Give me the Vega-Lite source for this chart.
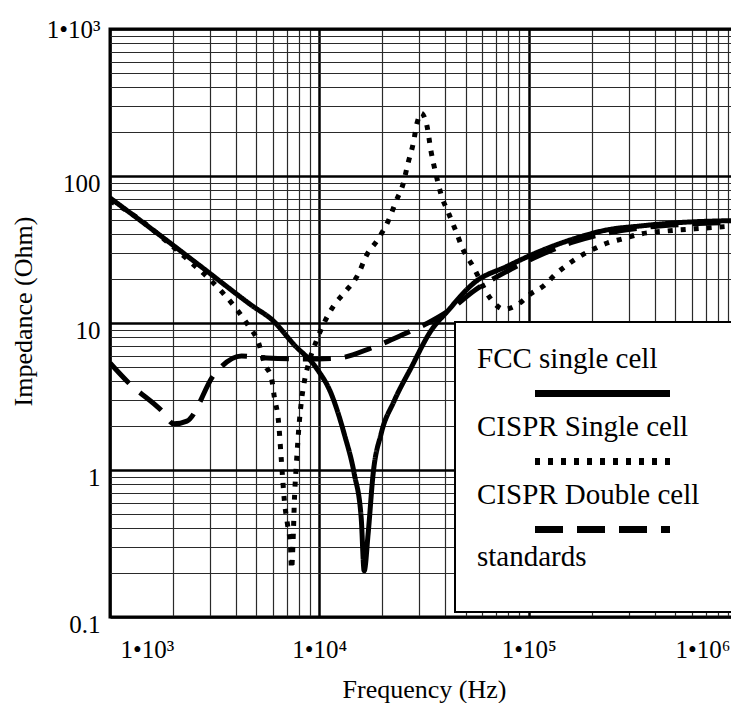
{
  "$schema": "https://vega.github.io/schema/vega-lite/v6.json",
  "width": 628,
  "height": 588,
  "autosize": {"type": "none"},
  "padding": {"left": 110, "top": 29, "right": -7, "bottom": 86},
  "background": "white",
  "config": {
    "font": "Liberation Serif",
    "view": {"stroke": "black", "strokeWidth": 3},
    "axis": {
      "domain": false,
      "ticks": false,
      "labelColor": "black",
      "titleColor": "black",
      "labelFont": "Liberation Serif",
      "titleFont": "Liberation Serif",
      "titleFontWeight": "normal",
      "labelFontSize": 25,
      "titleFontSize": 26,
      "gridOpacity": 1,
      "labelOverlap": false
    },
    "legend": {"strokeWidth": 2}
  },
  "data": {
    "values": [
      {"series": "FCC single cell", "frequency": 1000, "impedance": 71},
      {"series": "FCC single cell", "frequency": 1585, "impedance": 43.5},
      {"series": "FCC single cell", "frequency": 2742, "impedance": 24.0},
      {"series": "FCC single cell", "frequency": 4742, "impedance": 13.2},
      {"series": "FCC single cell", "frequency": 6040, "impedance": 10.3},
      {"series": "FCC single cell", "frequency": 7516, "impedance": 7.2},
      {"series": "FCC single cell", "frequency": 9676, "impedance": 4.94},
      {"series": "FCC single cell", "frequency": 11406, "impedance": 3.29},
      {"series": "FCC single cell", "frequency": 13152, "impedance": 1.76},
      {"series": "FCC single cell", "frequency": 14686, "impedance": 0.94},
      {"series": "FCC single cell", "frequency": 15849, "impedance": 0.471},
      {"series": "FCC single cell", "frequency": 16380, "impedance": 0.206},
      {"series": "FCC single cell", "frequency": 17100, "impedance": 0.367},
      {"series": "FCC single cell", "frequency": 18070, "impedance": 0.94},
      {"series": "FCC single cell", "frequency": 19720, "impedance": 1.76},
      {"series": "FCC single cell", "frequency": 22750, "impedance": 2.94},
      {"series": "FCC single cell", "frequency": 27400, "impedance": 4.94},
      {"series": "FCC single cell", "frequency": 34100, "impedance": 8.83},
      {"series": "FCC single cell", "frequency": 41100, "impedance": 12.1},
      {"series": "FCC single cell", "frequency": 54700, "impedance": 18.7},
      {"series": "FCC single cell", "frequency": 79400, "impedance": 24.4},
      {"series": "FCC single cell", "frequency": 114000, "impedance": 30.9},
      {"series": "FCC single cell", "frequency": 163700, "impedance": 37.3},
      {"series": "FCC single cell", "frequency": 237500, "impedance": 43.0},
      {"series": "FCC single cell", "frequency": 341000, "impedance": 45.7},
      {"series": "FCC single cell", "frequency": 490000, "impedance": 47.9},
      {"series": "FCC single cell", "frequency": 1000000, "impedance": 49.8},

      {"series": "CISPR Single cell", "frequency": 1000, "impedance": 67.6},
      {"series": "CISPR Single cell", "frequency": 1274, "impedance": 55.1},
      {"series": "CISPR Single cell", "frequency": 1808, "impedance": 37.3},
      {"series": "CISPR Single cell", "frequency": 2455, "impedance": 25.6},
      {"series": "CISPR Single cell", "frequency": 2958, "impedance": 20.2},
      {"series": "CISPR Single cell", "frequency": 3490, "impedance": 15.8},
      {"series": "CISPR Single cell", "frequency": 4027, "impedance": 12.4},
      {"series": "CISPR Single cell", "frequency": 4592, "impedance": 9.55},
      {"series": "CISPR Single cell", "frequency": 5127, "impedance": 7.31},
      {"series": "CISPR Single cell", "frequency": 5474, "impedance": 5.26},
      {"series": "CISPR Single cell", "frequency": 5905, "impedance": 4.22},
      {"series": "CISPR Single cell", "frequency": 6105, "impedance": 3.09},
      {"series": "CISPR Single cell", "frequency": 6380, "impedance": 2.15},
      {"series": "CISPR Single cell", "frequency": 6590, "impedance": 1.15},
      {"series": "CISPR Single cell", "frequency": 6810, "impedance": 0.615},
      {"series": "CISPR Single cell", "frequency": 7040, "impedance": 0.43},
      {"series": "CISPR Single cell", "frequency": 7280, "impedance": 0.304},
      {"series": "CISPR Single cell", "frequency": 7360, "impedance": 0.212},
      {"series": "CISPR Single cell", "frequency": 7520, "impedance": 0.384},
      {"series": "CISPR Single cell", "frequency": 7600, "impedance": 0.615},
      {"series": "CISPR Single cell", "frequency": 7770, "impedance": 1.10},
      {"series": "CISPR Single cell", "frequency": 8030, "impedance": 2.15},
      {"series": "CISPR Single cell", "frequency": 8210, "impedance": 2.94},
      {"series": "CISPR Single cell", "frequency": 8490, "impedance": 4.03},
      {"series": "CISPR Single cell", "frequency": 8870, "impedance": 5.26},
      {"series": "CISPR Single cell", "frequency": 9680, "impedance": 7.55},
      {"series": "CISPR Single cell", "frequency": 11790, "impedance": 13.3},
      {"series": "CISPR Single cell", "frequency": 13300, "impedance": 16.3},
      {"series": "CISPR Single cell", "frequency": 15340, "impedance": 21.5},
      {"series": "CISPR Single cell", "frequency": 16750, "impedance": 28.6},
      {"series": "CISPR Single cell", "frequency": 19100, "impedance": 37.3},
      {"series": "CISPR Single cell", "frequency": 21330, "impedance": 49.4},
      {"series": "CISPR Single cell", "frequency": 23280, "impedance": 67.6},
      {"series": "CISPR Single cell", "frequency": 25120, "impedance": 88.3},
      {"series": "CISPR Single cell", "frequency": 26540, "impedance": 122.6},
      {"series": "CISPR Single cell", "frequency": 28050, "impedance": 165},
      {"series": "CISPR Single cell", "frequency": 29310, "impedance": 229.5},
      {"series": "CISPR Single cell", "frequency": 30640, "impedance": 268},
      {"series": "CISPR Single cell", "frequency": 32680, "impedance": 218.7},
      {"series": "CISPR Single cell", "frequency": 34140, "impedance": 148},
      {"series": "CISPR Single cell", "frequency": 36060, "impedance": 103},
      {"series": "CISPR Single cell", "frequency": 38090, "impedance": 75.5},
      {"series": "CISPR Single cell", "frequency": 41580, "impedance": 55.1},
      {"series": "CISPR Single cell", "frequency": 44870, "impedance": 42.3},
      {"series": "CISPR Single cell", "frequency": 48490, "impedance": 31.8},
      {"series": "CISPR Single cell", "frequency": 54100, "impedance": 24.4},
      {"series": "CISPR Single cell", "frequency": 65900, "impedance": 14.6},
      {"series": "CISPR Single cell", "frequency": 76000, "impedance": 12.4},
      {"series": "CISPR Single cell", "frequency": 89600, "impedance": 13.5},
      {"series": "CISPR Single cell", "frequency": 102300, "impedance": 15.8},
      {"series": "CISPR Single cell", "frequency": 117900, "impedance": 17.9},
      {"series": "CISPR Single cell", "frequency": 134500, "impedance": 21.5},
      {"series": "CISPR Single cell", "frequency": 155000, "impedance": 25.2},
      {"series": "CISPR Single cell", "frequency": 176900, "impedance": 28.6},
      {"series": "CISPR Single cell", "frequency": 204000, "impedance": 31.8},
      {"series": "CISPR Single cell", "frequency": 237500, "impedance": 35.0},
      {"series": "CISPR Single cell", "frequency": 280300, "impedance": 37.3},
      {"series": "CISPR Single cell", "frequency": 341000, "impedance": 40.3},
      {"series": "CISPR Single cell", "frequency": 459000, "impedance": 42.3},
      {"series": "CISPR Single cell", "frequency": 711000, "impedance": 44.3},
      {"series": "CISPR Single cell", "frequency": 1000000, "impedance": 46.0},

      {"series": "CISPR Double cell", "frequency": 1000, "impedance": 5.35},
      {"series": "CISPR Double cell", "frequency": 1230, "impedance": 3.91},
      {"series": "CISPR Double cell", "frequency": 1770, "impedance": 2.52},
      {"series": "CISPR Double cell", "frequency": 2020, "impedance": 2.06},
      {"series": "CISPR Double cell", "frequency": 2330, "impedance": 2.15},
      {"series": "CISPR Double cell", "frequency": 3160, "impedance": 4.50},
      {"series": "CISPR Double cell", "frequency": 4250, "impedance": 5.97},
      {"series": "CISPR Double cell", "frequency": 5600, "impedance": 5.78},
      {"series": "CISPR Double cell", "frequency": 8490, "impedance": 5.69},
      {"series": "CISPR Double cell", "frequency": 12310, "impedance": 5.78},
      {"series": "CISPR Double cell", "frequency": 17700, "impedance": 6.76},
      {"series": "CISPR Double cell", "frequency": 25400, "impedance": 8.41},
      {"series": "CISPR Double cell", "frequency": 33000, "impedance": 10.0},
      {"series": "CISPR Double cell", "frequency": 42500, "impedance": 12.4},
      {"series": "CISPR Double cell", "frequency": 54700, "impedance": 16.5},
      {"series": "CISPR Double cell", "frequency": 79400, "impedance": 22.6},
      {"series": "CISPR Double cell", "frequency": 114000, "impedance": 29.0},
      {"series": "CISPR Double cell", "frequency": 163700, "impedance": 35.6},
      {"series": "CISPR Double cell", "frequency": 237500, "impedance": 40.9},
      {"series": "CISPR Double cell", "frequency": 341000, "impedance": 44.3},
      {"series": "CISPR Double cell", "frequency": 490000, "impedance": 46.4},
      {"series": "CISPR Double cell", "frequency": 1000000, "impedance": 48.5}
    ]
  },
  "mark": {"type": "line", "color": "black", "strokeWidth": 5, "clip": true, "interpolate": "monotone"},
  "encoding": {
    "x": {
      "field": "frequency",
      "type": "quantitative",
      "scale": {"type": "log", "domain": [1000, 1000000]},
      "axis": {
        "title": "Frequency (Hz)",
        "values": [1000, 2000, 3000, 4000, 5000, 6000, 7000, 8000, 9000, 10000, 20000, 30000, 40000, 50000, 60000, 70000, 80000, 90000, 100000, 200000, 300000, 400000, 500000, 600000, 700000, 800000, 900000, 1000000],
        "labelExpr": "datum.value == 1000 ? '1•10³' : datum.value == 10000 ? '1•10⁴' : datum.value == 100000 ? '1•10⁵' : datum.value == 1000000 ? '1•10⁶' : ''",
        "grid": true,
        "gridColor": {"condition": {"test": "datum.value == 1000 || datum.value == 10000 || datum.value == 100000 || datum.value == 1000000", "value": "black"}, "value": "#2a2a2a"},
        "gridWidth": {"condition": {"test": "datum.value == 1000 || datum.value == 10000 || datum.value == 100000 || datum.value == 1000000", "value": 2.5}, "value": 1.2},
        "labelFlush": true,
        "labelPadding": 20,
        "labelOffset": {"condition": [{"test": "datum.value == 1000", "value": 10}, {"test": "datum.value == 1000000", "value": -8}], "value": 0},
        "titlePadding": 14
      }
    },
    "y": {
      "field": "impedance",
      "type": "quantitative",
      "scale": {"type": "log", "domain": [0.1, 1000]},
      "axis": {
        "title": "Impedance (Ohm)",
        "values": [0.1, 0.2, 0.3, 0.4, 0.5, 0.6, 0.7, 0.8, 0.9, 1, 2, 3, 4, 5, 6, 7, 8, 9, 10, 20, 30, 40, 50, 60, 70, 80, 90, 100, 200, 300, 400, 500, 600, 700, 800, 900, 1000],
        "labelExpr": "datum.value == 1000 ? '1•10³' : datum.value == 100 ? '100' : datum.value == 10 ? '10' : datum.value == 1 ? '1' : datum.value == 0.1 ? '0.1' : ''",
        "grid": true,
        "gridColor": {"condition": {"test": "datum.value == 0.1 || datum.value == 1 || datum.value == 10 || datum.value == 100 || datum.value == 1000", "value": "black"}, "value": "#2a2a2a"},
        "gridWidth": {"condition": {"test": "datum.value == 0.1 || datum.value == 1 || datum.value == 10 || datum.value == 100 || datum.value == 1000", "value": 2.5}, "value": 1.2},
        "labelPadding": 10,
        "labelOffset": {"condition": {"test": "datum.value == 1000", "value": 0}, "value": 7},
        "titleX": -87,
        "titleY": 282,
        "titleBaseline": "middle",
        "titleAlign": "center"
      }
    },
    "strokeDash": {
      "field": "series",
      "type": "nominal",
      "scale": {
        "domain": ["FCC single cell", "CISPR Single cell", "CISPR Double cell"],
        "range": [[1, 0], [5, 8], [28, 14]]
      },
      "legend": {
        "title": ["standards", ""],
        "orient": "none",
        "legendX": 345,
        "legendY": 293,
        "direction": "vertical",
        "padding": 22,
        "strokeColor": "black",
        "fillColor": "white",
        "symbolType": "M-6.136,3.18H6.136M10.5,3.18",
        "symbolSize": 484,
        "symbolStrokeWidth": 7,
        "symbolStrokeColor": "black",
        "symbolFillColor": "transparent",
        "symbolOffset": 111,
        "labelOffset": -140,
        "labelFont": "Liberation Serif",
        "labelFontSize": 29,
        "labelColor": "black",
        "labelLimit": 400,
        "rowPadding": 4,
        "titleOrient": "bottom",
        "titleAnchor": "start",
        "titlePadding": 0,
        "titleFont": "Liberation Serif",
        "titleFontSize": 29,
        "titleFontWeight": "normal",
        "titleColor": "black",
        "titleLineHeight": 18,
        "titleLimit": 400
      }
    }
  }
}
